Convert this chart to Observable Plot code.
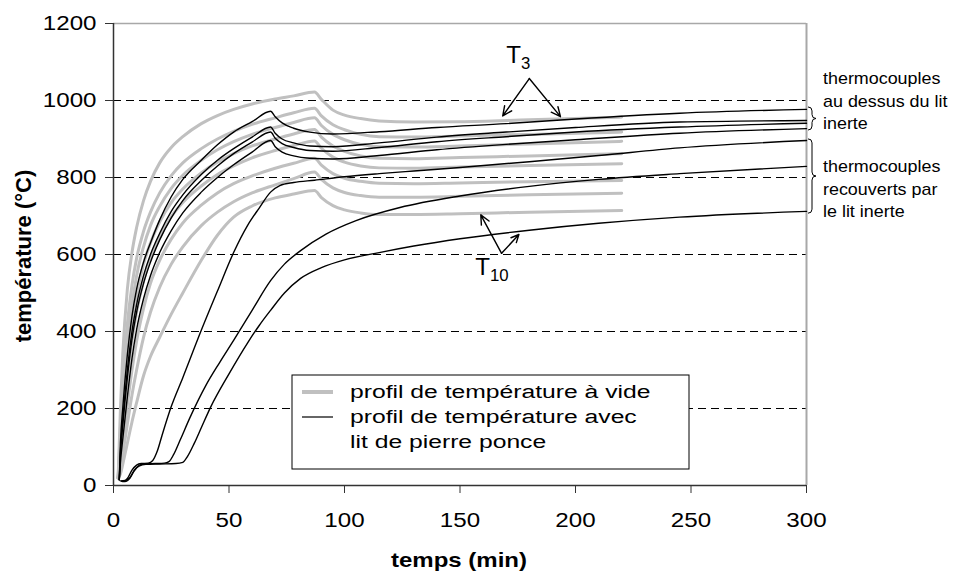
<!DOCTYPE html>
<html><head><meta charset="utf-8">
<script src="https://cdn.jsdelivr.net/npm/d3@7"></script>
<script src="https://cdn.jsdelivr.net/npm/@observablehq/plot@0.6"></script>
<style>
body{margin:0;background:#fff}
svg{font-family:"Liberation Sans", Arial, sans-serif}
</style>
</head><body><div id="chart"></div>
<script>
// ---- axes ----
const xTicks = [0, 50, 100, 150, 200, 250, 300];
const yTicks = [0, 200, 400, 600, 800, 1000, 1200];
const gridLevels = [200, 400, 600, 800, 1000];
const xTitle = "temps (min)";
const yTitle = "température (°C)";

// ---- empty furnace profiles (grey), shared time base ----
const grayTimes = [2, 3, 4, 6, 8, 10, 13, 16, 20, 25, 30, 38, 45, 52, 60, 70, 78, 87, 90, 95, 100, 107, 115, 130, 150, 180, 220];
const gray1 = [20, 200, 340, 510, 605, 670, 740, 790, 838, 878, 906, 940, 961, 977, 991, 1004, 1012, 1022, 1003, 975, 962, 953, 947, 944, 945, 950, 957];
const gray2 = [20, 150, 270, 420, 520, 590, 660, 710, 760, 805, 838, 875, 900, 920, 938, 955, 968, 980, 960, 937, 924, 912, 906, 905, 908, 912, 918];
const gray3 = [20, 120, 230, 370, 470, 545, 620, 675, 725, 772, 806, 845, 872, 893, 912, 930, 943, 955, 935, 912, 898, 886, 880, 879, 882, 887, 894];
const gray4 = [20, 100, 190, 320, 420, 495, 575, 630, 685, 735, 770, 812, 840, 862, 882, 900, 913, 925, 905, 882, 868, 856, 850, 849, 852, 856, 862];
const gray5 = [20, 80, 160, 280, 375, 450, 530, 590, 645, 698, 735, 778, 808, 830, 851, 870, 883, 895, 876, 853, 840, 830, 825, 824, 827, 831, 836];
const gray6 = [20, 55, 110, 210, 300, 375, 460, 525, 585, 640, 682, 728, 760, 784, 804, 824, 837, 850, 832, 810, 798, 790, 785, 784, 786, 789, 792];
const gray7 = [20, 40, 80, 160, 235, 300, 385, 450, 515, 575, 620, 675, 710, 737, 760, 781, 797, 814, 795, 773, 761, 753, 749, 749, 751, 755, 759];
const gray8 = [20, 30, 55, 110, 165, 215, 285, 335, 385, 445, 500, 585, 650, 697, 726, 747, 757, 766, 748, 727, 716, 708, 704, 704, 706, 710, 714];

// ---- pumice bed profiles (black): thermocouples above the inert bed ----
const blackTopTimes = [2.5, 3, 4, 6, 8, 10, 13, 16, 20, 25, 30, 38, 45, 52, 60, 68, 70, 73, 78, 85, 95, 115, 140, 170, 200, 245, 300];
const black1 = [15, 110, 200, 340, 440, 510, 580, 630, 690, 750, 795, 845, 885, 918, 945, 972, 958, 942, 928, 918, 913, 919, 930, 940, 952, 967, 977];
const black2 = [15, 90, 170, 300, 400, 470, 545, 600, 655, 712, 755, 808, 845, 875, 905, 931, 915, 900, 890, 882, 880, 890, 905, 918, 930, 944, 948];
const black3 = [15, 80, 155, 280, 380, 450, 525, 580, 638, 695, 740, 792, 830, 862, 892, 918, 902, 888, 878, 870, 868, 878, 893, 906, 918, 931, 941];
const black4 = [15, 60, 120, 230, 330, 405, 485, 545, 605, 662, 708, 762, 800, 833, 866, 896, 880, 866, 856, 850, 848, 857, 872, 886, 898, 915, 927];

// ---- thermocouples covered by the inert bed ----
const bottom1 = [[3, 12], [5, 13], [6, 18], [8, 40], [10, 53], [12, 57], [15, 58], [17, 65], [19, 90], [21, 130], [25, 205], [30, 280], [38, 403], [45, 505], [52, 605], [58, 675], [63, 720], [68, 762], [72, 779], [78, 787], [87, 793], [100, 802], [115, 810], [130, 817], [150, 826], [180, 841], [210, 857], [245, 877], [300, 896]];
const bottom2 = [[3.5, 11], [5, 12], [7, 20], [9, 40], [11, 52], [13, 56], [18, 57], [22, 58], [24, 62], [26, 80], [29, 120], [33, 175], [40, 260], [46, 320], [52, 377], [60, 455], [68, 532], [74, 575], [81, 610], [92, 653], [105, 688], [124, 722], [150, 752], [180, 777], [210, 795], [245, 810], [300, 829]];
const bottom3 = [[4, 10], [5.5, 11], [7, 18], [9, 38], [11, 50], [14, 55], [20, 56], [27, 57], [30, 60], [32, 75], [35, 110], [38, 150], [42, 203], [50, 290], [58, 370], [63, 415], [68, 455], [74, 500], [81, 538], [90, 566], [100, 586], [115, 605], [130, 622], [150, 641], [180, 663], [210, 681], [245, 697], [300, 712]];

// ---- annotations ----
const t3Arrows = [{x1: 180, y1: 1057, x2: 168.5, y2: 960}, {x1: 180, y1: 1057, x2: 193.5, y2: 958}];
const t10Arrows = [{x1: 168, y1: 603, x2: 159, y2: 703}, {x1: 168, y1: 603, x2: 175.5, y2: 652}];
const t3Label = {x: 175.5, y: 1096, main: "T", sub: "3"};
const t10Label = {x: 164, y: 545, main: "T", sub: "10"};
const braceAbove = {top: 982, bottom: 922, lines: ["thermocouples", "au dessus du lit", "inerte"]};
const braceCovered = {top: 899, bottom: 706, lines: ["thermocouples", "recouverts par", "le lit inerte"]};
const legendLabels = ["profil de température à vide", "profil de température avec", "lit de pierre ponce"];

// ---- build rows ----
const grayRows = [];
[gray1, gray2, gray3, gray4, gray5, gray6, gray7, gray8].forEach((vals, k) =>
  vals.forEach((v, i) => grayRows.push({id: "g" + k, t: grayTimes[i], T: v})));
const blackRows = [];
[black1, black2, black3, black4].forEach((vals, k) =>
  vals.forEach((v, i) => blackRows.push({id: "b" + k, t: blackTopTimes[i], T: v})));
[bottom1, bottom2, bottom3].forEach((pts, k) =>
  pts.forEach(([t, T]) => blackRows.push({id: "l" + k, t, T})));

const plot = Plot.plot({
  width: 955, height: 574,
  marginLeft: 113, marginRight: 149, marginTop: 23, marginBottom: 89,
  style: {background: "#fff", fontFamily: "'Liberation Sans', Arial, sans-serif", color: "#000"},
  x: {domain: [0, 300]},
  y: {domain: [0, 1200]},
  marks: [
    Plot.ruleY(gridLevels, {stroke: "#000", strokeWidth: 1, strokeDasharray: "8,5"}),
    Plot.ruleY([1200], {stroke: "#a8a8a8", strokeWidth: 1.5}),
    Plot.ruleX([300], {stroke: "#a8a8a8", strokeWidth: 2}),
    Plot.line(grayRows, {x: "t", y: "T", z: "id", stroke: "#c0c0c0", strokeWidth: 3, curve: "monotone-x"}),
    Plot.line(blackRows, {x: "t", y: "T", z: "id", stroke: "#000", strokeWidth: 1.4, curve: "monotone-x"}),
    Plot.ruleX([0], {stroke: "#333", strokeWidth: 1.5}),
    Plot.ruleY([0], {stroke: "#333", strokeWidth: 1.5}),
    Plot.axisX(xTicks, {tickSize: 8, tickPadding: 19, fontSize: 21, label: null, stroke: "#333", fill: "#000", tickFormat: d => String(d)}),
    Plot.axisY(yTicks, {tickSize: 8, tickPadding: 9, fontSize: 21, label: null, stroke: "#333", fill: "#000", tickFormat: d => String(d)}),
    Plot.arrow(t3Arrows, {x1: "x1", y1: "y1", x2: "x2", y2: "y2", stroke: "#000", strokeWidth: 1.4, headLength: 11, headAngle: 50}),
    Plot.arrow(t10Arrows, {x1: "x1", y1: "y1", x2: "x2", y2: "y2", stroke: "#000", strokeWidth: 1.4, headLength: 11, headAngle: 50})
  ]
});

const sx = plot.scale("x"), sy = plot.scale("y");
const X = v => sx.apply(v), Y = v => sy.apply(v);
const svg = d3.select(plot);

// stretch tick labels horizontally like the reference
const SX = 1.15;
svg.selectAll('g[aria-label="x-axis tick label"] text, g[aria-label="y-axis tick label"] text').each(function () {
  const x = +(this.getAttribute("x") || 0);
  const t = this.getAttribute("transform") || "";
  this.setAttribute("x", 0);
  this.setAttribute("transform", `${t} translate(${x},0) scale(${SX},1)`);
});

function stretchedText(x, y, str, size, opts = {}) {
  return svg.append("text")
    .attr("transform", `translate(${x},${y}) scale(${opts.sx || SX},1)`)
    .attr("font-size", size)
    .attr("text-anchor", opts.anchor || "start")
    .attr("font-weight", opts.weight || null)
    .attr("fill", "#000")
    .text(str);
}

// axis titles
stretchedText(459, 567, xTitle, 20, {anchor: "middle", weight: "bold", sx: 1.2});
svg.append("text")
  .attr("transform", `translate(31,256) rotate(-90)`)
  .attr("text-anchor", "middle").attr("font-size", 22).attr("font-weight", "bold")
  .text(yTitle);

// subscript labels
function subLabel(l) {
  const t = svg.append("text")
    .attr("transform", `translate(${X(l.x)},${Y(l.y)}) scale(1.05,1)`)
    .attr("font-size", 23).attr("fill", "#000");
  t.append("tspan").text(l.main);
  t.append("tspan").attr("dy", 6).attr("font-size", 16).text(l.sub);
}
subLabel(t3Label);
subLabel(t10Label);

// braces + side annotations
function brace(b, textTop) {
  const x0 = X(300) + 2, w = 8;
  const y0 = Y(b.top), y1 = Y(b.bottom), ym = (y0 + y1) / 2, r = 4;
  const p = d3.path();
  p.moveTo(x0, y0);
  p.quadraticCurveTo(x0 + w / 2, y0, x0 + w / 2, y0 + r);
  p.lineTo(x0 + w / 2, ym - r);
  p.quadraticCurveTo(x0 + w / 2, ym, x0 + w, ym);
  p.quadraticCurveTo(x0 + w / 2, ym, x0 + w / 2, ym + r);
  p.lineTo(x0 + w / 2, y1 - r);
  p.quadraticCurveTo(x0 + w / 2, y1, x0, y1);
  svg.append("path").attr("d", p.toString()).attr("fill", "none").attr("stroke", "#000").attr("stroke-width", 1);
  b.lines.forEach((s, i) => stretchedText(823, textTop + i * 22.5, s, 16, {sx: 1.12}));
}
brace(braceAbove, 84);
brace(braceCovered, 172);

// legend
const lg = svg.append("g");
lg.append("rect").attr("x", 292).attr("y", 375).attr("width", 397).attr("height", 94)
  .attr("fill", "#fff").attr("stroke", "#000").attr("stroke-width", 1);
lg.append("line").attr("x1", 302).attr("x2", 333).attr("y1", 392).attr("y2", 392)
  .attr("stroke", "#c0c0c0").attr("stroke-width", 4);
lg.append("line").attr("x1", 302).attr("x2", 333).attr("y1", 417).attr("y2", 417)
  .attr("stroke", "#000").attr("stroke-width", 1.2);
legendLabels.forEach((s, i) => stretchedText(350, 398 + i * 25, s, 19, {sx: 1.3}));

document.getElementById("chart").appendChild(plot);
</script></body></html>
